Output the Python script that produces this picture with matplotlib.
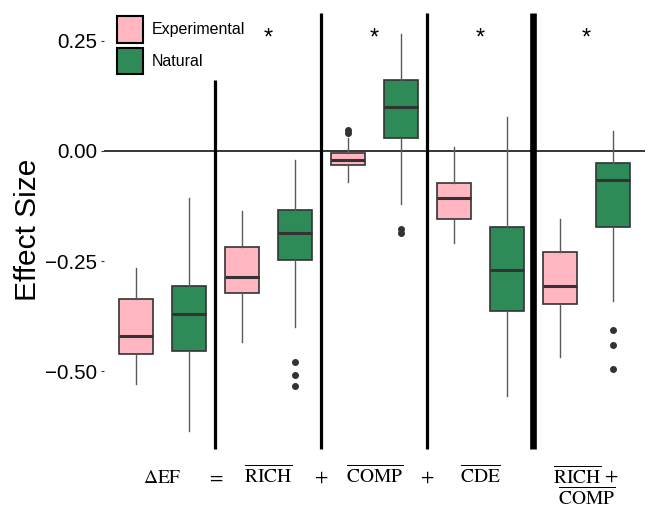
import matplotlib
matplotlib.use('Agg')
import matplotlib.pyplot as plt
from matplotlib.patches import Patch
import numpy as np

plt.rcParams['font.family'] = ['Liberation Sans', 'DejaVu Sans']
plt.rcParams['mathtext.fontset'] = 'stix'

# effect size partitions, one box pair per term
terms = [r'$\Delta\mathrm{EF}$', r'$\overline{\mathrm{RICH}}$', r'$\overline{\mathrm{COMP}}$',
         r'$\overline{\mathrm{CDE}}$', r'$\overline{\mathrm{RICH}}\,+$']
term_second_line = ['', '', '', '', r'$\overline{\mathrm{COMP}}$']
operators = ['=', '+', '+', '']
stars = ['', '*', '*', '*', '*']

# Experimental boxes
exp_whislo = [-0.530, -0.435, -0.071, -0.210, -0.468]
exp_q1 = [-0.461, -0.323, -0.032, -0.155, -0.347]
exp_med = [-0.421, -0.286, -0.020, -0.107, -0.307]
exp_q3 = [-0.336, -0.218, -0.005, -0.072, -0.230]
exp_whishi = [-0.267, -0.136, 0.029, 0.008, -0.155]
exp_fliers = [[], [], [0.048, 0.040], [], []]

# Natural boxes
nat_whislo = [-0.636, -0.399, -0.120, -0.556, -0.342]
nat_q1 = [-0.455, -0.248, 0.029, -0.364, -0.172]
nat_med = [-0.371, -0.187, 0.101, -0.271, -0.065]
nat_q3 = [-0.306, -0.135, 0.161, -0.172, -0.027]
nat_whishi = [-0.107, -0.020, 0.265, 0.078, 0.045]
nat_fliers = [[], [-0.480, -0.510, -0.533], [-0.177, -0.186], [], [-0.407, -0.442, -0.495]]

pink = '#FFB6C1'
green = '#2E8B57'


def make_stats(lo, q1, med, q3, hi, fl):
    return [dict(whislo=a, q1=b, med=c, q3=d, whishi=e, fliers=f)
            for a, b, c, d, e, f in zip(lo, q1, med, q3, hi, fl)]


fig = plt.figure(figsize=(6.49, 5.08), dpi=100)
ax = fig.add_axes([104 / 649, 0.1051, 540.6 / 649, 0.8835])

pos = np.arange(1, len(terms) + 1)
for stats, offset, col in [
        (make_stats(exp_whislo, exp_q1, exp_med, exp_q3, exp_whishi, exp_fliers), -0.25, pink),
        (make_stats(nat_whislo, nat_q1, nat_med, nat_q3, nat_whishi, nat_fliers), 0.25, green)]:
    ax.bxp(stats, positions=pos + offset, widths=0.325, patch_artist=True,
           showcaps=False, manage_ticks=False,
           boxprops=dict(facecolor=col, edgecolor='#333333', linewidth=1.2),
           medianprops=dict(color='#333333', linewidth=2.2),
           whiskerprops=dict(color='#5a5a5a', linewidth=1.0),
           flierprops=dict(marker='o', markersize=4, markerfacecolor='#333333',
                           markeredgecolor='#333333'))

ax.axhline(0, color='black', linewidth=1.1, zorder=0)

# separators between the terms
ax.vlines([1.5], 0.161, -0.677, color='black', linewidth=2.3)
ax.vlines([2.5, 3.5], 0.314, -0.677, color='black', linewidth=2.3)
ax.vlines([4.5], 0.314, -0.677, color='black', linewidth=4.8)

for x, s in zip(pos, stars):
    if s:
        ax.text(x, 0.255, s, ha='center', va='center', fontsize=17)

# equation under the boxes
for x, t, t2 in zip(pos, terms, term_second_line):
    ax.text(x, -0.7545, t, ha='center', va='baseline', fontsize=14, clip_on=False)
    if t2:
        ax.text(x, -0.8045, t2, ha='center', va='baseline', fontsize=14, clip_on=False)
for x, op in zip(pos[:-1] + 0.5, operators):
    if op:
        ax.text(x, -0.7545, '$' + op + '$', ha='center', va='baseline', fontsize=14,
                clip_on=False)

ax.set_xlim(0.45, 5.55)
ax.set_ylim(-0.69, 0.33)
ax.set_xticks([])
ax.set_yticks([-0.5, -0.25, 0.0, 0.25])
ax.set_yticklabels(['\u22120.50', '\u22120.25', '0.00', '0.25'])
ax.tick_params(axis='y', labelsize=14.8, length=2.5, width=0.8, color='#333333', pad=2.5)
for sp in ax.spines.values():
    sp.set_visible(False)
ax.set_ylabel('Effect Size', fontsize=21.5, labelpad=2)

handles = [Patch(facecolor=pink, edgecolor='black', linewidth=1.5, label='Experimental'),
           Patch(facecolor=green, edgecolor='black', linewidth=1.5, label='Natural')]
ax.legend(handles=handles, loc='upper left', bbox_to_anchor=(117 / 649, 1 - 16 / 508),
          bbox_transform=fig.transFigure, frameon=False, fontsize=11.5,
          handlelength=1.6, handleheight=2.2, labelspacing=0.3, handletextpad=0.6,
          borderpad=0, borderaxespad=0)

fig.savefig('out.png', dpi=100)
